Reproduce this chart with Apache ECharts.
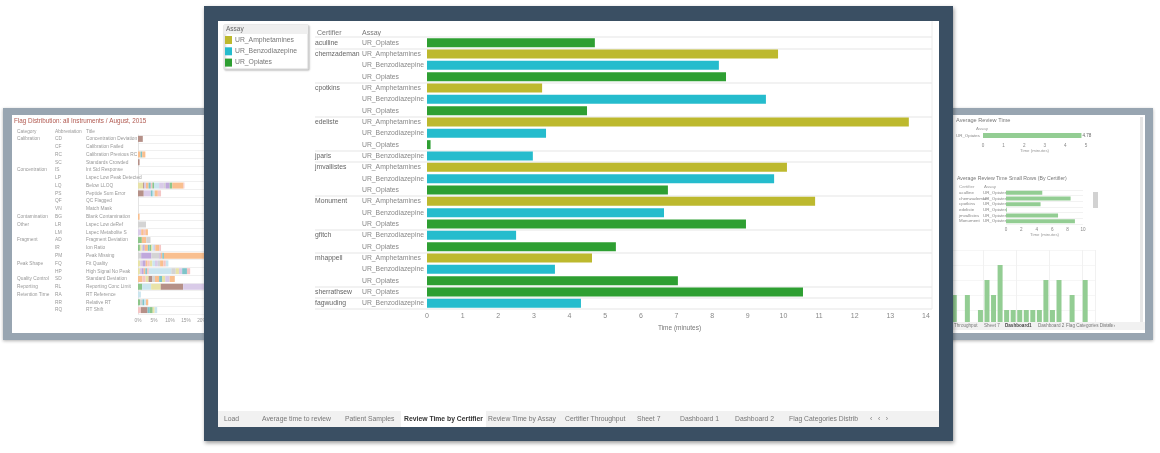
<!DOCTYPE html>
<html>
<head>
<meta charset="utf-8">
<title>Review Time by Certifier</title>
<script src="https://cdn.jsdelivr.net/npm/echarts@6/dist/echarts.min.js"></script>
<style>
html,body{margin:0;padding:0;background:#fff;overflow:hidden;}
body{width:1160px;height:453px;position:relative;font-family:"Liberation Sans",sans-serif;}
.box{position:absolute;}
.chart{position:absolute;left:0;top:0;width:1160px;height:453px;filter:blur(0.45px);}
.frame-side{background:#98a5b1;box-shadow:0 1px 3px rgba(0,0,0,.3);}
.frame-main{background:#3a4f63;box-shadow:1px 2px 4px rgba(0,0,0,.4);}
.tabs{background:#f1f1f1;color:#777;filter:blur(0.35px);}
.tabs span{position:absolute;top:0;white-space:nowrap;}
.tabs .on{background:#fff;color:#333;font-weight:bold;text-align:center;}
</style>
</head>
<body>
<div class="box frame-side" style="left:3px;top:108px;width:215px;height:232px;"></div>
<div class="box" style="left:12px;top:115px;width:200px;height:218px;background:#fff;"></div>
<div class="box frame-side" style="left:940px;top:108px;width:213px;height:232px;"></div>
<div class="box" style="left:940px;top:115px;width:205px;height:218px;background:#fff;"></div>
<div id="flag_chart" class="chart" style="z-index:1;"></div>
<div id="side_chart" class="chart" style="z-index:1;"></div>
<div class="box tabs" style="z-index:2;left:950px;top:322px;width:195px;height:8px;line-height:8px;font-size:4.6px;">
	<span style="left:4px;">Throughput</span><span style="left:34px;">Sheet 7</span><span style="left:55px;color:#444;font-weight:bold;">Dashboard1</span><span style="left:88px;">Dashboard 2</span><span style="left:116px;">Flag Categories Distrib</span><span style="left:158px;">&#8249; &#8249; &#8250;</span>
</div>
<div class="box frame-main" style="z-index:3;left:204px;top:6px;width:749px;height:435px;"></div>
<div class="box" style="z-index:3;left:218px;top:21px;width:721px;height:390px;background:#fff;"></div>
<div id="main_chart" class="chart" style="z-index:4;"></div>
<div class="box tabs" style="z-index:4;left:218px;top:411px;width:721px;height:16px;line-height:16px;font-size:6.8px;">
	<span style="left:6px;">Load</span>
	<span style="left:44px;">Average time to review</span>
	<span style="left:127px;">Patient Samples</span>
	<span class="on" style="left:183px;width:85px;">Review Time by Certifier</span>
	<span style="left:270px;">Review Time by Assay</span>
	<span style="left:347px;">Certifier Throughput</span>
	<span style="left:419px;">Sheet 7</span>
	<span style="left:462px;">Dashboard 1</span>
	<span style="left:517px;">Dashboard 2</span>
	<span style="left:571px;">Flag Categories Distrib</span>
	<span style="left:652px;">&#8249; &nbsp; &#8249; &nbsp; &#8250;</span>
</div>
<script>
// 主图:每个认证人每个检测项的平均审核时间
var assayNames = ['UR_Amphetamines', 'UR_Benzodiazepine', 'UR_Opiates'];
var certifierRows = ['aculline', 'chemzademan', '', '', 'cpotkins', '', '', 'edeliste', '', '', 'jparis', 'jmvallistes', '', '', 'Monument', '', '', 'gfitch', '', 'mhappell', '', '', 'sherrathsew', 'fagwuding'];
var assayRows = ['UR_Opiates', 'UR_Amphetamines', 'UR_Benzodiazepine', 'UR_Opiates', 'UR_Amphetamines', 'UR_Benzodiazepine', 'UR_Opiates', 'UR_Amphetamines', 'UR_Benzodiazepine', 'UR_Opiates', 'UR_Benzodiazepine', 'UR_Amphetamines', 'UR_Benzodiazepine', 'UR_Opiates', 'UR_Amphetamines', 'UR_Benzodiazepine', 'UR_Opiates', 'UR_Benzodiazepine', 'UR_Opiates', 'UR_Amphetamines', 'UR_Benzodiazepine', 'UR_Opiates', 'UR_Opiates', 'UR_Benzodiazepine'];
var reviewMinutes = [4.71, 9.85, 8.19, 8.39, 3.23, 9.51, 4.49, 13.52, 3.34, 0.1, 2.97, 10.1, 9.74, 6.76, 10.89, 6.65, 8.95, 2.5, 5.3, 4.63, 3.59, 7.04, 10.55, 4.32];

// 左侧面板
var flagCategories = ['Calibration', '', '', '', 'Concentration', '', '', '', '', '', 'Contamination', 'Other', '', 'Fragment', '', '', 'Peak Shape', '', 'Quality Control', 'Reporting', 'Retention Time', '', ''];
var flagCodes = ['CD', 'CF', 'RC', 'SC', 'IS', 'LP', 'LQ', 'PS', 'QF', 'VN', 'BG', 'LR', 'LM', 'AD', 'IR', 'PM', 'FQ', 'HP', 'SD', 'RL', 'RA', 'RR', 'RQ'];
var flagTitles = ['Concentration Deviation', 'Calibration Failed', 'Calibration Previous RC', 'Standards Crowded', 'Int Std Response', 'Lspec Low Peak Detected', 'Below LLOQ', 'Peptide Sum Error', 'QC Flagged', 'Match Mask', 'Blank Contamination', 'Lspec Low deRef', 'Lspec Metabolite S', 'Fragment Deviation', 'Ion Ratio', 'Peak Missing', 'Fit Quality', 'High Signal No Peak', 'Standard Deviation', 'Reporting Conc Limit', 'RT Reference', 'Relative RT', 'RT Shift'];
var flagSegments = [
	[0, 0, 0, 1.5],
	[],
	[0, 0, 0, 0, 0, 0, 0, 0.8, 0.5, 0, 0, 0, 0, 0, 0, 0, 0, 1],
	[0, 0, 0, 0.5],
	[], [],
	[0, 1.6, 0, 0.4, 0.5, 0, 0, 0.8, 0.7, 0.5, 0.5, 0, 1.6, 0, 1.5, 0.5, 1.3, 0, 0, 0, 0.8, 0, 0, 0, 0, 0, 0, 3.5, 0, 0.3],
	[0, 0, 0, 1.8, 2.2, 0, 0, 0, 0.6, 0, 0, 0, 0.6, 0, 0, 0, 0, 1, 0, 1],
	[], [],
	[0, 0, 0, 0, 0, 0, 0, 0.5],
	[0, 0, 0, 0, 0, 2.5],
	[0, 0, 0, 0, 1, 0, 0, 0.8, 0, 0.5, 0, 0, 0, 0, 0, 0, 0, 0.8],
	[1.2, 0, 0, 0, 0, 0, 0, 1.4, 0, 0, 0, 0, 0, 0, 0, 1.3],
	[0.6, 0.5, 0, 0, 0, 0.5, 0.5, 1, 0.5, 0, 0.5, 0.4, 0.5, 0, 0.4, 0, 0, 1.2, 0, 0.6],
	[0, 0, 0, 0, 0, 1, 3.2, 0, 0, 0, 0, 0, 0, 0, 0, 2.5, 0.4, 0.5, 0.5, 0, 0, 0, 0, 0, 0, 0, 0, 14],
	[0, 0.7, 0, 0, 0.7, 0, 1, 0.6, 0, 0.7, 0, 0.8, 0.8, 0, 0.9, 0.7, 0, 1, 0, 0.8, 0, 0, 0.8],
	[0, 0.6, 0, 0, 0.5, 0, 0.7, 0.5, 0.5, 0.6, 0, 0, 7, 0, 0, 1.4, 0, 0, 0, 0, 0, 1, 0, 0, 1, 0, 0, 0, 1.5, 1],
	[0, 0, 0, 0, 0, 0, 0, 1.4, 0, 1, 0, 0.9, 0, 1.2, 0, 0.8, 0, 1.3, 0.9, 0, 0, 1, 0, 0, 1.4, 0, 0, 1.6],
	[1.3, 0, 2.8, 0, 0, 0, 0, 0, 0, 0, 0, 3, 0, 7, 8],
	[0, 0, 0.9],
	[0.7, 0, 0, 0, 0, 0.7, 0, 0, 0.6, 0, 0, 0, 0.5, 0, 0, 0, 0, 0.7],
	[0, 0, 0, 0, 0, 0, 0, 0, 0, 0.9, 0, 0, 0, 2.1, 0, 0, 0, 0, 0.7, 0, 0.9, 0.6, 0.8]
];

// 右侧面板
var opiatesCertifiers = ['aculline', 'chemzademan', 'cpotkins', 'edeliste', 'jmvallistes', 'Monument'];
var opiatesAssays = ['UR_Opiates', 'UR_Opiates', 'UR_Opiates', 'UR_Opiates', 'UR_Opiates', 'UR_Opiates'];
var opiatesMinutes = [4.71, 8.39, 4.49, 0.1, 6.76, 8.95];
var overallMinutes = [4.78];
var overallAssay = ['UR_Opiates'];
var reviewDays = ['1', '2', '3', '4', '5', '6', '7', '8', '9', '10', '11', '12', '13', '14', '15', '16', '17', '18', '19', '20', '21', '22'];
var reviewCounts = [2, 0, 2, 0, 1, 3, 2, 4, 1, 1, 1, 1, 1, 1, 3, 1, 3, 0, 2, 0, 3, 0];

var FONT = '"Liberation Sans",sans-serif';
var assayColors = ['#bdb92e', '#25bccd', '#2e9f32'];
var flagColors = ['#8cc58a', '#e8e3a8', '#cbe5ef', '#b59088', '#d9cbe8', '#d4d4d4', '#c0a8dc', '#f9bf8f', '#7ec4c9', '#f4c6c6'];
var sideGreen = '#93cd93';

function labelAxis(gridIndex, rows, margin, size, color) {
	return {
		gridIndex: gridIndex, type: 'category', inverse: true, position: 'left', data: rows,
		axisLine: {show: false}, axisTick: {show: false}, splitLine: {show: false},
		axisLabel: {interval: 0, align: 'left', margin: margin, fontSize: size, color: color, fontFamily: FONT}
	};
}

function seriesValues(name) {
	return reviewMinutes.map(function(v, i) {
		return assayRows[i] == name ? v : null;
	});
}

function main_chart() {
	var myChart = echarts.init(document.getElementById('main_chart'), null, {renderer: 'canvas'});
	var series = assayNames.map(function(name, i) {
		return {
			name: name, type: 'bar', stack: 'time', barWidth: 9, xAxisIndex: 0, yAxisIndex: 0,
			itemStyle: {color: assayColors[i]}, data: seriesValues(name)
		};
	});
	var rowLine = {show: true, interval: function(i) { return certifierRows[i] !== ''; }, lineStyle: {color: '#eeeeee', width: 1.5}};
	myChart.setOption({
		animation: false,
		legend: {
			orient: 'vertical', left: 225, top: 36, itemWidth: 7, itemHeight: 8, itemGap: 3.3, padding: 0,
			icon: 'rect', selectedMode: false, data: assayNames,
			textStyle: {fontSize: 6.8, color: '#777', fontFamily: FONT, padding: [0, 0, 0, -2]}
		},
		graphic: [
			{type: 'rect', z: -1, shape: {x: 224, y: 25, width: 84, height: 44}, style: {fill: '#fff', stroke: '#ddd', shadowBlur: 2, shadowColor: 'rgba(0,0,0,.25)', shadowOffsetX: 1, shadowOffsetY: 1}},
			{type: 'rect', z: -1, shape: {x: 224, y: 25, width: 84, height: 9}, style: {fill: '#efefef'}},
			{type: 'text', style: {x: 226, y: 26, text: 'Assay', fontSize: 6.5, fill: '#666', fontFamily: FONT}},
			{type: 'text', style: {x: 317, y: 30, text: 'Certifier', fontSize: 7, fill: '#777', fontFamily: FONT}},
			{type: 'text', style: {x: 362, y: 30, text: 'Assay', fontSize: 7, fill: '#777', fontFamily: FONT}},
			{type: 'line', shape: {x1: 932, y1: 21, x2: 932, y2: 309}, style: {stroke: '#ececec', lineWidth: 1}}
		],
		grid: [{left: 427, top: 37, width: 505, height: 272}, {left: 315, top: 37, width: 112, height: 272}],
		xAxis: [
			{
				gridIndex: 0, type: 'value', min: 0, max: 14.17, interval: 1,
				name: 'Time (minutes)', nameLocation: 'middle', nameGap: 14,
				nameTextStyle: {fontSize: 6.5, color: '#777', fontFamily: FONT},
				axisLine: {show: false}, axisTick: {show: false}, splitLine: {show: false},
				axisLabel: {fontSize: 7, color: '#888', margin: 4, showMaxLabel: false, fontFamily: FONT}
			},
			{gridIndex: 1, type: 'value', show: false}
		],
		yAxis: [
			{
				gridIndex: 0, type: 'category', inverse: true, data: assayRows,
				axisLine: {show: false}, axisTick: {show: false}, axisLabel: {show: false}, splitLine: rowLine
			},
			{
				gridIndex: 1, type: 'category', inverse: true, data: assayRows,
				axisLine: {show: false}, axisTick: {show: false}, axisLabel: {show: false}, splitLine: rowLine
			},
			labelAxis(0, assayRows, 65, 6.8, '#888'),
			labelAxis(0, certifierRows, 112, 6.8, '#666')
		],
		series: series
	});
}

function flag_chart() {
	var myChart = echarts.init(document.getElementById('flag_chart'), null, {renderer: 'canvas'});
	var series = [];
	for (var s = 0; s < 30; s++) {
		series.push({
			type: 'bar', stack: 'flags', barWidth: 6,
			itemStyle: {color: flagColors[s % flagColors.length]},
			data: flagSegments.map(function(row) { return row[s] || 0; })
		});
	}
	myChart.setOption({
		animation: false,
		title: {left: 14, top: 118, padding: 0, text: 'Flag Distribution: all Instruments / August, 2015', textStyle: {fontSize: 6.3, fontWeight: 'normal', color: '#b0584f', fontFamily: FONT}},
		graphic: [
			{type: 'text', style: {x: 17, y: 129, text: 'Category', fontSize: 4.8, fill: '#999', fontFamily: FONT}},
			{type: 'text', style: {x: 55, y: 129, text: 'Abbreviation', fontSize: 4.8, fill: '#999', fontFamily: FONT}},
			{type: 'text', style: {x: 86, y: 129, text: 'Title', fontSize: 4.8, fill: '#999', fontFamily: FONT}}
		],
		grid: {left: 138, top: 135, width: 80, height: 179},
		xAxis: {
			type: 'value', min: 0, max: 25, interval: 5,
			axisLine: {show: false}, axisTick: {show: false}, splitLine: {show: false},
			axisLabel: {fontSize: 4.8, color: '#999', margin: 4, formatter: '{value}%', fontFamily: FONT}
		},
		yAxis: [
			{
				type: 'category', inverse: true, data: flagCodes,
				axisLine: {show: true, lineStyle: {color: '#e4e4e4'}}, axisTick: {show: false}, axisLabel: {show: false},
				splitLine: {show: true, interval: 0, lineStyle: {color: '#f0f0f0'}}
			},
			labelAxis(0, flagCategories, 121, 4.8, '#999'),
			labelAxis(0, flagCodes, 83, 4.8, '#999'),
			labelAxis(0, flagTitles, 52, 4.8, '#999')
		],
		series: series
	});
}

function side_chart() {
	var myChart = echarts.init(document.getElementById('side_chart'), null, {renderer: 'canvas'});
	var smallAxis = {fontSize: 4.6, color: '#888', margin: 3, fontFamily: FONT};
	myChart.setOption({
		animation: false,
		title: [
			{left: 956, top: 117, padding: 0, text: 'Average Review Time', textStyle: {fontSize: 5.6, fontWeight: 'normal', color: '#777', fontFamily: FONT}},
			{left: 957, top: 176, padding: 0, text: 'Average Review Time Small Rows (By Certifier)', textStyle: {fontSize: 5.2, fontWeight: 'normal', color: '#777', fontFamily: FONT}}
		],
		graphic: [
			{type: 'rect', shape: {x: 1140, y: 117, width: 3, height: 205}, style: {fill: '#e6e6e6'}},
			{type: 'rect', shape: {x: 1093, y: 192, width: 5, height: 16}, style: {fill: '#d2d2d2'}},
			{type: 'text', style: {x: 976, y: 127, text: 'Assay', fontSize: 4.4, fill: '#999', fontFamily: FONT}},
			{type: 'text', style: {x: 959, y: 185, text: 'Certifier', fontSize: 4.4, fill: '#999', fontFamily: FONT}},
			{type: 'text', style: {x: 984, y: 185, text: 'Assay', fontSize: 4.4, fill: '#999', fontFamily: FONT}}
		],
		grid: [
			{left: 983, top: 131, width: 103, height: 9},
			{left: 1006, top: 190, width: 77, height: 34},
			{left: 951, top: 250, width: 144, height: 75}
		],
		xAxis: [
			{
				gridIndex: 0, type: 'value', min: 0, max: 5, interval: 1,
				name: 'Time (minutes)', nameLocation: 'middle', nameGap: 9,
				nameTextStyle: {fontSize: 4.4, color: '#999', fontFamily: FONT},
				axisLine: {show: false}, axisTick: {show: false}, splitLine: {show: false}, axisLabel: smallAxis
			},
			{
				gridIndex: 1, type: 'value', min: 0, max: 10, interval: 2,
				name: 'Time (minutes)', nameLocation: 'middle', nameGap: 9,
				nameTextStyle: {fontSize: 4.4, color: '#999', fontFamily: FONT},
				axisLine: {show: false}, axisTick: {show: false}, splitLine: {show: false}, axisLabel: smallAxis
			},
			{
				gridIndex: 2, type: 'category', data: reviewDays,
				axisLine: {show: false}, axisTick: {show: false}, axisLabel: {show: false},
				splitLine: {show: true, interval: 4, lineStyle: {color: '#f1f1f1'}}
			}
		],
		yAxis: [
			{
				gridIndex: 0, type: 'category', inverse: true, data: overallAssay,
				axisLine: {show: false}, axisTick: {show: false},
				axisLabel: {fontSize: 4.4, color: '#888', margin: 3, fontFamily: FONT}
			},
			{
				gridIndex: 1, type: 'category', inverse: true, data: opiatesCertifiers,
				axisLine: {show: false}, axisTick: {show: false},
				axisLabel: {interval: 0, fontSize: 4.4, color: '#888', align: 'left', margin: 47, fontFamily: FONT},
				splitLine: {show: true, interval: 0, lineStyle: {color: '#f2f2f2'}}
			},
			{
				gridIndex: 2, type: 'value', min: 0, max: 5, interval: 1,
				axisLine: {show: false}, axisTick: {show: false}, axisLabel: {show: false},
				splitLine: {show: true, lineStyle: {color: '#f6f6f6'}}
			},
			{
				gridIndex: 1, type: 'category', inverse: true, position: 'left', data: opiatesAssays,
				axisLine: {show: false}, axisTick: {show: false}, splitLine: {show: false},
				axisLabel: {interval: 0, fontSize: 4.4, color: '#888', align: 'left', margin: 23, fontFamily: FONT}
			}
		],
		series: [
			{
				type: 'bar', xAxisIndex: 0, yAxisIndex: 0, barWidth: 5, itemStyle: {color: sideGreen}, data: overallMinutes,
				label: {show: true, position: 'right', distance: 1, fontSize: 4.6, color: '#666', fontFamily: FONT}
			},
			{type: 'bar', xAxisIndex: 1, yAxisIndex: 1, barWidth: 4, itemStyle: {color: sideGreen}, data: opiatesMinutes},
			{type: 'bar', xAxisIndex: 2, yAxisIndex: 2, barWidth: 5, itemStyle: {color: sideGreen}, data: reviewCounts}
		]
	});
}

main_chart();
flag_chart();
side_chart();
</script>
</body>
</html>
